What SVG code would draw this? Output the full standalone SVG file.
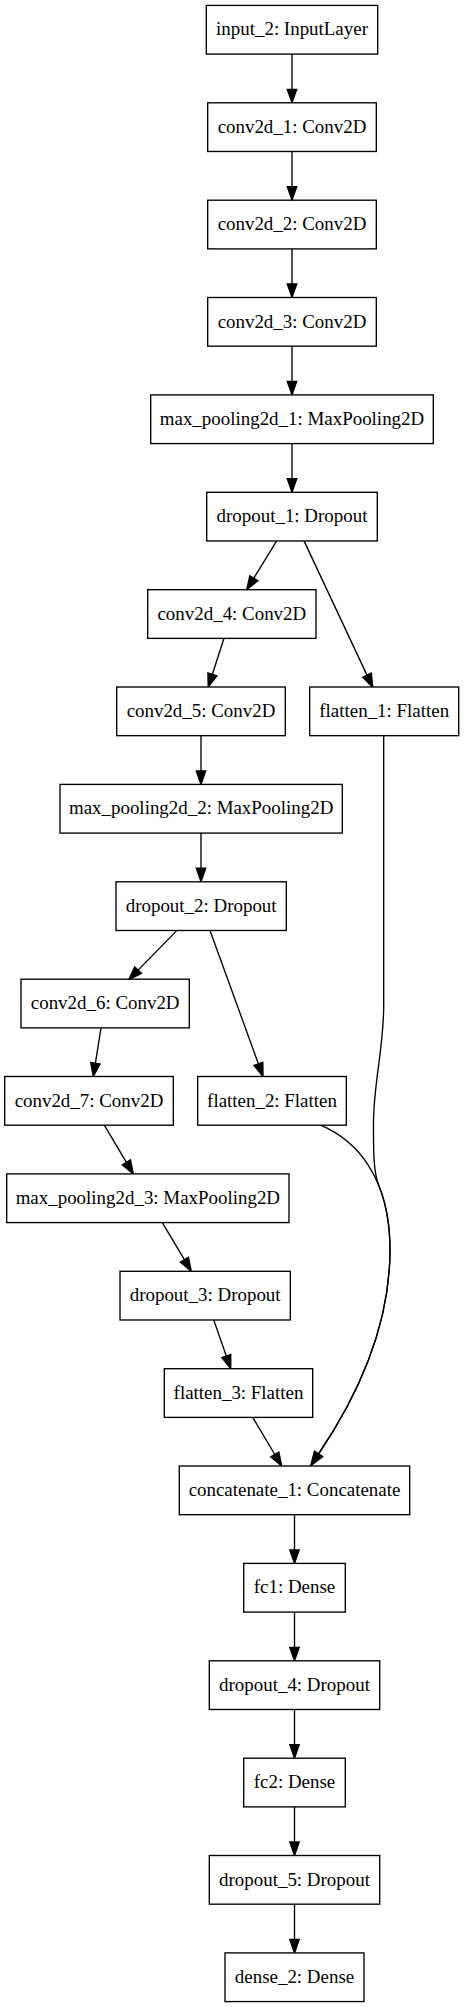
<svg xmlns="http://www.w3.org/2000/svg" width="464" height="2007" viewBox="0 0 464 2007">
<style>
.n rect{fill:#fff;stroke:#000;stroke-width:1.35}
.n text{font-family:"Liberation Serif","Times New Roman",serif;font-size:18.93px;text-anchor:middle;fill:#000}
#edges path{fill:none;stroke:#000;stroke-width:1.35;marker-end:url(#ah)}
</style>
<defs>
<marker id="ah" markerUnits="userSpaceOnUse" viewBox="-1 -1 15.5 11.5" refX="0" refY="4.73" markerWidth="15.5" markerHeight="11.5" orient="auto" overflow="visible">
<path d="M0,0 L13.5,4.73 L0,9.46 z" fill="#000" stroke="#000" stroke-width="1.35"/>
</marker>
</defs>
<rect width="464" height="2007" fill="#fff"/>
<g id="edges">
<path d="M292,54.1 L292,89.3"/>
<path d="M292,151.4 L292,186.7"/>
<path d="M292,248.8 L292,284"/>
<path d="M292,346.2 L292,381.4"/>
<path d="M292,443.6 L292,478.8"/>
<path d="M276.7,540.9 L253.8,578.2"/>
<path d="M304,540.9 L367,675.1"/>
<path d="M224,638.3 L212.4,674.3"/>
<path d="M201,735.7 L201,770.9"/>
<path d="M201,833.1 L201,868.3"/>
<path d="M177,930.4 L138.1,970.1"/>
<path d="M210,930.4 L258.4,1063.8"/>
<path d="M101,1027.8 L95.4,1063.2"/>
<path d="M104.3,1125.2 L126.4,1162.3"/>
<path d="M162.3,1222.6 L184.4,1259.7"/>
<path d="M213.7,1319.9 L226.3,1356"/>
<path d="M252.7,1417.3 L274.8,1454.5"/>
<path d="M383.7,735.7 L383.7,1005 C383.7,1050 373,1085 373.5,1125 C373.5,1145 373,1171.2 378.66,1185.1 C385.71,1202.27 390,1223.75 390,1250 C390,1330 355,1400 318.5,1454"/>
<path d="M320.7,1125.2 C355,1140 390,1175 390,1250 C390,1330 355,1400 318.5,1454"/>
<path d="M294.5,1514.7 L294.5,1549.9"/>
<path d="M294.5,1612.1 L294.5,1647.3"/>
<path d="M294.5,1709.4 L294.5,1744.7"/>
<path d="M294.5,1806.8 L294.5,1842"/>
<path d="M294.5,1904.2 L294.5,1939.4"/>
</g>
<g id="input_2" class="n"><rect x="206.3" y="5.41" width="171.4" height="48.68"/><text x="292" y="35.45">input_2: InputLayer</text></g>
<g id="conv2d_1" class="n"><rect x="207.7" y="102.8" width="168.6" height="48.68"/><text x="292" y="132.8">conv2d_1: Conv2D</text></g>
<g id="conv2d_2" class="n"><rect x="207.7" y="200.2" width="168.6" height="48.68"/><text x="292" y="230.2">conv2d_2: Conv2D</text></g>
<g id="conv2d_3" class="n"><rect x="207.7" y="297.5" width="168.6" height="48.68"/><text x="292" y="327.6">conv2d_3: Conv2D</text></g>
<g id="max_pooling2d_1" class="n"><rect x="150.7" y="394.9" width="282.6" height="48.68"/><text x="292" y="424.9">max_pooling2d_1: MaxPooling2D</text></g>
<g id="dropout_1" class="n"><rect x="206.7" y="492.3" width="170.6" height="48.68"/><text x="292" y="522.3">dropout_1: Dropout</text></g>
<g id="conv2d_4" class="n"><rect x="147.7" y="589.7" width="168.3" height="48.68"/><text x="231.85" y="619.7">conv2d_4: Conv2D</text></g>
<g id="conv2d_5" class="n"><rect x="116.7" y="687" width="168.6" height="48.68"/><text x="201" y="717.1">conv2d_5: Conv2D</text></g>
<g id="flatten_1" class="n"><rect x="309.7" y="687" width="149" height="48.68"/><text x="384.2" y="717.1">flatten_1: Flatten</text></g>
<g id="max_pooling2d_2" class="n"><rect x="60" y="784.4" width="282.3" height="48.68"/><text x="201.15" y="814.4">max_pooling2d_2: MaxPooling2D</text></g>
<g id="dropout_2" class="n"><rect x="116" y="881.8" width="170.3" height="48.68"/><text x="201.15" y="911.8">dropout_2: Dropout</text></g>
<g id="conv2d_6" class="n"><rect x="21" y="979.2" width="168.3" height="48.68"/><text x="105.15" y="1009.2">conv2d_6: Conv2D</text></g>
<g id="conv2d_7" class="n"><rect x="4.7" y="1076.5" width="168.6" height="48.68"/><text x="89" y="1106.6">conv2d_7: Conv2D</text></g>
<g id="flatten_2" class="n"><rect x="197.7" y="1076.5" width="148.6" height="48.68"/><text x="272" y="1106.6">flatten_2: Flatten</text></g>
<g id="max_pooling2d_3" class="n"><rect x="6.7" y="1173.9" width="282.3" height="48.68"/><text x="147.85" y="1203.9">max_pooling2d_3: MaxPooling2D</text></g>
<g id="dropout_3" class="n"><rect x="120" y="1271.3" width="170.3" height="48.68"/><text x="205.15" y="1301.3">dropout_3: Dropout</text></g>
<g id="flatten_3" class="n"><rect x="164.3" y="1368.7" width="148.4" height="48.68"/><text x="238.5" y="1398.7">flatten_3: Flatten</text></g>
<g id="concatenate_1" class="n"><rect x="179.3" y="1466" width="230.4" height="48.68"/><text x="294.5" y="1496.1">concatenate_1: Concatenate</text></g>
<g id="fc1" class="n"><rect x="243.7" y="1563.4" width="101.6" height="48.68"/><text x="294.5" y="1593.4">fc1: Dense</text></g>
<g id="dropout_4" class="n"><rect x="209.3" y="1660.8" width="170.4" height="48.68"/><text x="294.5" y="1690.8">dropout_4: Dropout</text></g>
<g id="fc2" class="n"><rect x="243.7" y="1758.2" width="101.6" height="48.68"/><text x="294.5" y="1788.2">fc2: Dense</text></g>
<g id="dropout_5" class="n"><rect x="209.3" y="1855.5" width="170.4" height="48.68"/><text x="294.5" y="1885.6">dropout_5: Dropout</text></g>
<g id="dense_2" class="n"><rect x="225" y="1952.9" width="139" height="48.68"/><text x="294.5" y="1982.9">dense_2: Dense</text></g>
</svg>
